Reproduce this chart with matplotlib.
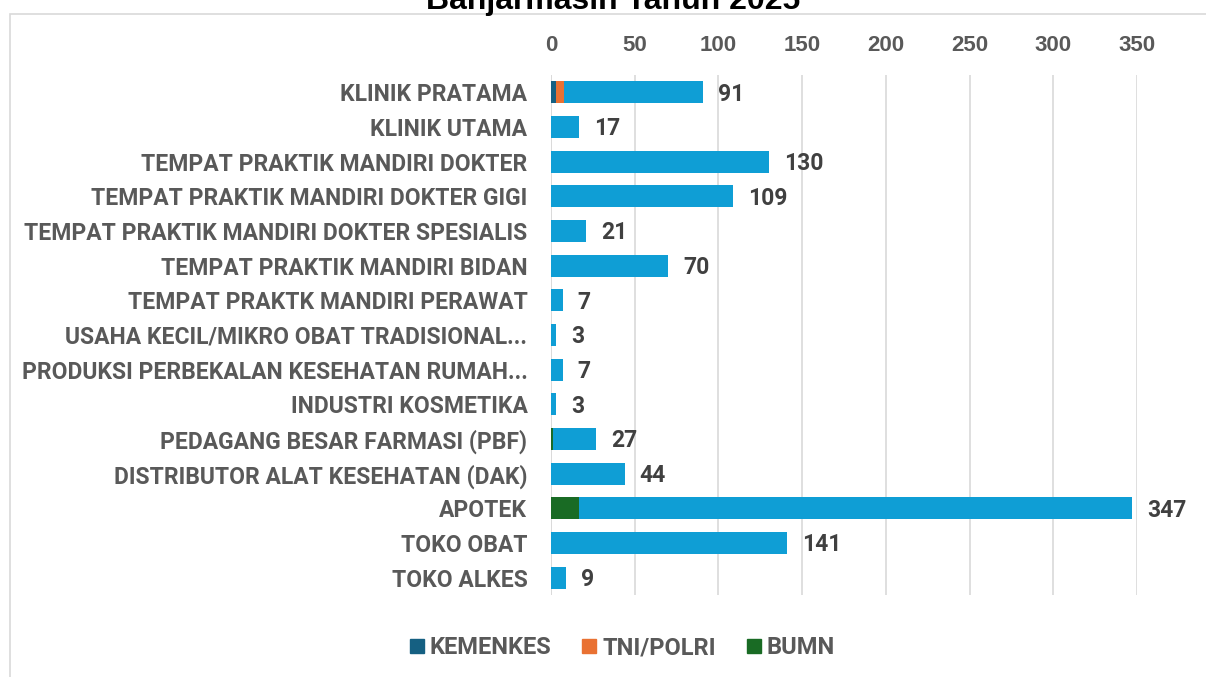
import matplotlib.pyplot as plt
from matplotlib.patches import Rectangle
from matplotlib.lines import Line2D

# Data
kategori = [
    "KLINIK PRATAMA",
    "KLINIK UTAMA",
    "TEMPAT PRAKTIK MANDIRI DOKTER",
    "TEMPAT PRAKTIK MANDIRI DOKTER GIGI",
    "TEMPAT PRAKTIK MANDIRI DOKTER SPESIALIS",
    "TEMPAT PRAKTIK MANDIRI BIDAN",
    "TEMPAT PRAKTK MANDIRI PERAWAT",
    "USAHA KECIL/MIKRO OBAT TRADISIONAL...",
    "PRODUKSI PERBEKALAN KESEHATAN RUMAH...",
    "INDUSTRI KOSMETIKA",
    "PEDAGANG BESAR FARMASI (PBF)",
    "DISTRIBUTOR ALAT KESEHATAN (DAK)",
    "APOTEK",
    "TOKO OBAT",
    "TOKO ALKES",
]
kemenkes = [3, 0, 0, 0, 0, 0, 0, 0, 0, 0, 0, 0, 0, 0, 0]
tni_polri = [5, 0, 0, 0, 0, 0, 0, 0, 0, 0, 0, 0, 0, 0, 0]
bumn = [0, 0, 0, 0, 0, 0, 0, 0, 0, 0, 1, 0, 17, 0, 0]
swasta = [83, 17, 130, 109, 21, 70, 7, 3, 7, 3, 26, 44, 330, 141, 9]
x_ticks = [0, 50, 100, 150, 200, 250, 300, 350]

warna = {"KEMENKES": "#156082", "TNI/POLRI": "#E97132",
         "BUMN": "#196B24", "SWASTA": "#0F9ED5"}
FONT = "Roboto"

fig = plt.figure(figsize=(12.06, 6.77), dpi=100)
ax = fig.add_axes([551 / 1206, 1 - 595 / 677, (1137 - 551) / 1206, (595 - 75) / 677])

# bingkai chart area
fig.patches.append(Rectangle((10 / 1206, -0.1), 1.2, 1 - 14 / 677 + 0.1,
                             transform=fig.transFigure, fill=False,
                             edgecolor="#D9D9D9", linewidth=1.2))

y = list(range(len(kategori)))
tinggi = 0.63
kiri = [0] * len(kategori)
for nama, nilai in [("KEMENKES", kemenkes), ("TNI/POLRI", tni_polri),
                    ("BUMN", bumn), ("SWASTA", swasta)]:
    ax.barh(y, nilai, left=kiri, height=tinggi, color=warna[nama], zorder=3)
    kiri = [a + b for a, b in zip(kiri, nilai)]

# label total
for i, tot in enumerate(kiri):
    ax.annotate(str(tot), (tot, i), xytext=(15, -2), textcoords="offset pixels",
                ha="left", va="center", fontsize=16.5, fontweight="bold",
                color="#404040", family=FONT)

ax.set_ylim(len(kategori) - 0.5, -0.5)
ax.set_xlim(0, 350)
ax.set_xticks(x_ticks)
ax.xaxis.tick_top()
ax.grid(axis="x", color="#D9D9D9", linewidth=1.2, zorder=0)
ax.axvline(0, color="#D9D9D9", linewidth=1.2, zorder=1)
for s in ax.spines.values():
    s.set_visible(False)
ax.tick_params(axis="both", length=0)
ax.tick_params(axis="x", pad=14)
ax.tick_params(axis="y", pad=17)
ax.set_yticks(y)
ax.set_yticklabels(kategori, fontsize=16.5, fontweight="bold", color="#595959",
                   family=FONT)
for t in ax.get_xticklabels():
    t.set_fontsize(16)
    t.set_fontweight("bold")
    t.set_color("#595959")
    t.set_family("Liberation Sans")

fig.text(613 / 1206, 1 - 9 / 677, "Banjarmasin Tahun 2025", ha="center",
         va="baseline", fontsize=23, fontweight="bold", family="Liberation Sans",
         color="#000000")

handles = [Line2D([], [], marker="s", linestyle="", markersize=10,
                  color=warna[n]) for n in ["KEMENKES", "TNI/POLRI", "BUMN"]]
fig.legend(handles, ["KEMENKES", "TNI/POLRI", "BUMN"], loc="center",
           bbox_to_anchor=(620 / 1206, 1 - 648 / 677), ncol=3, frameon=False,
           handletextpad=0.05, columnspacing=1.1, handlelength=1.0,
           prop={"family": FONT, "weight": "bold", "size": 17},
           labelcolor="#595959")

fig.savefig("out.png", dpi=100)
